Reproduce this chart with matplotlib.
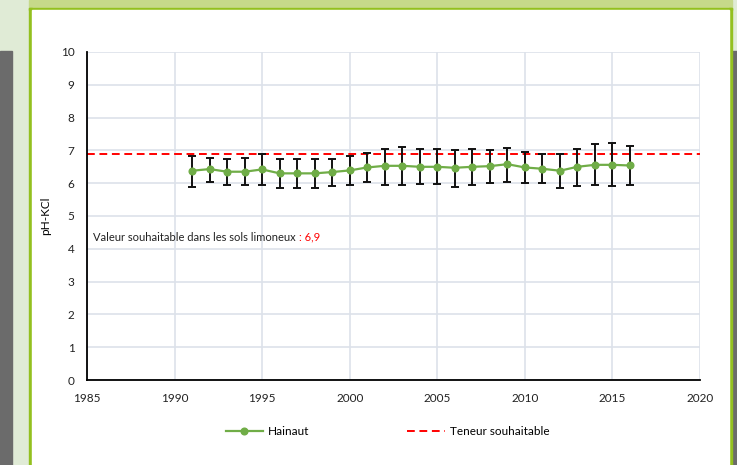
import numpy as np
import matplotlib
matplotlib.use("Agg")
import matplotlib.pyplot as plt
from matplotlib.patches import Rectangle

# pH-KCl moyen dans le Hainaut (moyenne +/- ecart-type)
years = list(range(1991, 2017))
ph_mean = [6.38, 6.43, 6.35, 6.35, 6.42, 6.30, 6.30, 6.30, 6.34, 6.39,
           6.48, 6.53, 6.53, 6.50, 6.50, 6.47, 6.50, 6.52, 6.58, 6.48,
           6.44, 6.38, 6.50, 6.56, 6.56, 6.54]
ph_high = [6.83, 6.77, 6.73, 6.78, 6.88, 6.73, 6.73, 6.73, 6.73, 6.83,
           6.91, 7.04, 7.11, 7.04, 7.04, 7.01, 7.04, 7.01, 7.06, 6.96,
           6.89, 6.88, 7.05, 7.20, 7.24, 7.14]
ph_low = [5.89, 6.05, 5.95, 5.95, 5.95, 5.85, 5.85, 5.85, 5.91, 5.95,
          6.05, 5.95, 5.95, 5.97, 5.97, 5.89, 5.95, 6.00, 6.05, 6.00,
          6.00, 5.84, 5.91, 5.95, 5.90, 5.95]
target = 6.9

W, H = 737, 465
fig = plt.figure(figsize=(W / 100, H / 100), dpi=100)
plt.rcParams['font.family'] = ['Lato', 'DejaVu Sans']

# cadre de la page
def box(x, y, w, h, c):
    fig.patches.append(Rectangle((x / W, 1 - (y + h) / H), w / W, h / H,
                                 transform=fig.transFigure, color=c, zorder=-5))

box(0, 0, W, H, '#e0ebd6')
box(0, 51, 12, H - 51, '#6b6b6b')
box(732, 51, 5, H - 51, '#6b6b6b')
box(29, 0, 703, 9, '#c6d98a')
box(29, 8, 3, H, '#93c01f')
box(729, 8, 3, H, '#93c01f')
box(29, 8, 703, 2, '#93c01f')
box(32, 10, 697, H, 'white')

ax = fig.add_axes([87 / W, 85 / H, 613 / W, 328 / H])
ax.set_facecolor('none')

yerr = [np.array(ph_mean) - np.array(ph_low), np.array(ph_high) - np.array(ph_mean)]
ax.errorbar(years, ph_mean, yerr=yerr, fmt='none', ecolor='#111111',
            elinewidth=1.4, capsize=3, capthick=1.4, zorder=3)
ax.plot(years, ph_mean, color='#70ad47', lw=1.6, marker='o', ms=4.8,
        zorder=4, label='Hainaut')
ax.axhline(target, color='#ff0000', lw=1.4, ls=(0, (4, 2.4)), zorder=2,
           label='Teneur souhaitable')

ax.set_xlim(1985, 2020)
ax.set_ylim(0, 10)
ax.set_xticks(range(1985, 2021, 5))
ax.set_yticks(range(0, 11))
ax.grid(True, color='#dde2ea', lw=1.2, zorder=0)
ax.set_axisbelow(True)
for s in ['top', 'right']:
    ax.spines[s].set_visible(False)
for s in ['left', 'bottom']:
    ax.spines[s].set_color('black')
    ax.spines[s].set_linewidth(1.3)
ax.tick_params(length=0, labelsize=8.5, colors='#222222')
ax.tick_params(axis='y', pad=9)
ax.tick_params(axis='x', pad=9)
ax.set_ylabel('pH-KCl', fontsize=8.5, labelpad=7)

ax.text(1985.35, 4.35, 'Valeur souhaitable dans les sols limoneux ', fontsize=8.0,
        color='#222222', va='center')
t = ax.annotate(': 6,9', xycoords=ax.texts[-1], xy=(1, 0.5), va='center',
                fontsize=8.0, color='#ff0000')

fig.legend(loc='lower center', bbox_to_anchor=(387.5 / W, 17 / H), ncol=2,
           frameon=False, fontsize=8.5, columnspacing=8.3, handlelength=3.2,
           handletextpad=0.4)

fig.savefig('out.png', dpi=100)
